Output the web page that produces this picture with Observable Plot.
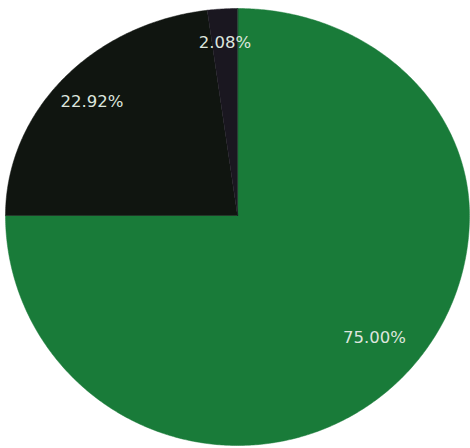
<!DOCTYPE html>
<html>
<head>
<meta charset="utf-8">
<script src="https://cdn.jsdelivr.net/npm/d3@7"></script>
<script src="https://cdn.jsdelivr.net/npm/@observablehq/plot@0.6"></script>
<style>
  html, body { margin: 0; padding: 0; background: #ffffff; }
  #chart svg { display: block; }
</style>
</head>
<body>
<div id="chart"></div>
<script>
// Data
const categories = ["A", "B", "C"];
const values = [75.00, 22.92, 2.08];
const labels = ["75.00%", "22.92%", "2.08%"];
const colors = ["#197b39", "#101510", "#1a1720"];

const total = d3.sum(values);
let acc = 0;
const slices = categories.map((c, i) => {
  const start = acc / total * 2 * Math.PI;
  acc += values[i];
  const end = acc / total * 2 * Math.PI;
  return {category: c, value: values[i], label: labels[i], start, end, color: colors[i]};
});

// slight perspective: lower half of the disc is taller than the upper half
const lowerStretch = 230 / 207;

function slicePoints(s) {
  const pts = [{x: 0, y: 0}];
  const n = Math.max(2, Math.ceil((s.end - s.start) / (Math.PI / 360)));
  for (let k = 0; k <= n; k++) {
    const a = s.start + (s.end - s.start) * k / n;
    pts.push({x: Math.sin(a), y: Math.cos(a)});
  }
  return pts;
}

// labels sit at a fixed fraction of the (unstretched) radius
const labelR = 0.835;
const labelPts = slices.map(s => {
  const m = (s.start + s.end) / 2;
  const yy = labelR * Math.cos(m);
  return {x: labelR * Math.sin(m), y: yy < 0 ? yy / lowerStretch : yy, label: s.label};
});

const chart = Plot.plot({
  width: 470,
  height: 448,
  margin: 0,
  x: {type: "linear", domain: [-1, 1], range: [5, 469], axis: null},
  y: {type: "linear", domain: [-lowerStretch, 1], range: [445, 8], axis: null,
      transform: v => v < 0 ? v * lowerStretch : v},
  style: {background: "#ffffff", fontFamily: "DejaVu Sans"},
  marks: [
    ...slices.map(s => Plot.line(slicePoints(s), {
      x: "x", y: "y", curve: "linear-closed", fill: s.color, stroke: s.color, strokeWidth: 0.5
    })),
    Plot.text(labelPts, {
      x: "x", y: "y", text: "label", fill: "#dde5de", fontSize: 16.5, textAnchor: "middle"
    })
  ]
});
document.getElementById("chart").appendChild(chart);
</script>
</body>
</html>
